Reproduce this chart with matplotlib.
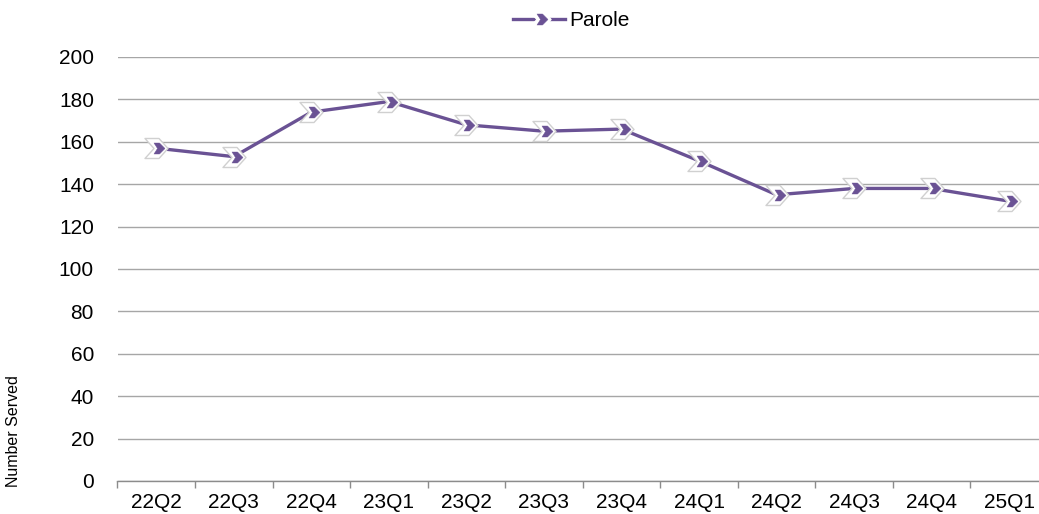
import numpy as np
import matplotlib.pyplot as plt
from matplotlib.path import Path
from matplotlib.lines import Line2D

# quarterly counts
quarters = ['22Q2', '22Q3', '22Q4', '23Q1', '23Q2', '23Q3',
            '23Q4', '24Q1', '24Q2', '24Q3', '24Q4', '25Q1']
parole = [157, 153, 174, 179, 168, 165, 166, 151, 135, 138, 138, 132]
yticks = [0, 20, 40, 60, 80, 100, 120, 140, 160, 180, 200]

purple = '#6a5294'
px = 72.0 / 100  # points per pixel

plt.rcParams['font.family'] = ['Liberation Sans', 'DejaVu Sans']

# chevron markers, drawn in pixel units around the point
outer = Path([(-11.5, 10), (2.5, 10), (11.5, 0), (2.5, -10),
              (-11.5, -10), (-2.5, 0), (-11.5, 10)],
             [Path.MOVETO] + [Path.LINETO] * 5 + [Path.CLOSEPOLY])
inner = Path([(-2.5, 5.5), (3.0, 5.5), (8.5, 0), (3.0, -5.5),
              (-2.5, -5.5), (1.0, 0), (-2.5, 5.5)],
             [Path.MOVETO] + [Path.LINETO] * 5 + [Path.CLOSEPOLY])
ms_out = 23 * px
ms_in = 17 * px

fig = plt.figure(figsize=(10.39, 5.14), dpi=100)
ax = fig.add_axes([117.5 / 1039, 1 - 481 / 514, (1048 - 117.5) / 1039, (481 - 57) / 514])

x = np.arange(len(quarters))
ax.plot(x, parole, color=purple, lw=2.4, zorder=3)
ax.plot(x, parole, ls='none', marker=outer, ms=ms_out, mfc='white',
        mec='#d0d0d0', mew=1.0, zorder=4)
ax.plot(x, parole, ls='none', marker=inner, ms=ms_in, mfc=purple,
        mec=purple, mew=0.3, zorder=5)

ax.set_xlim(-0.5, len(quarters) - 0.5)
ax.set_ylim(0, 200)
ax.set_yticks(yticks)
ax.set_xticks(x)
ax.set_xticklabels(quarters)
ax.set_xticks(np.arange(-0.5, len(quarters), 1.0), minor=True)
ax.tick_params(axis='x', which='major', length=0, labelsize=15, pad=9)
ax.tick_params(axis='x', which='minor', length=5, color='#8c8c8c', width=1)
ax.tick_params(axis='y', length=0, labelsize=15, pad=17)
ax.grid(axis='y', color='#a6a6a6', lw=1)
ax.set_axisbelow(True)
for s in ['top', 'right', 'left']:
    ax.spines[s].set_visible(False)
ax.spines['bottom'].set_color('#8c8c8c')
ax.spines['bottom'].set_linewidth(1)

fig.text(14 / 1039, 1 - 431.5 / 514, 'Number Served', rotation=90,
         fontsize=11.5, ha='center', va='center')

# legend
h = (Line2D([], [], color=purple, lw=2.4),
     Line2D([], [], ls='none', marker=outer, ms=ms_out, mfc='white', mec='white', mew=1.0),
     Line2D([], [], ls='none', marker=inner, ms=ms_in, mfc=purple, mec=purple, mew=0.3))
fig.legend([h], ['Parole'], loc='center', bbox_to_anchor=(571 / 1039, 1 - 21 / 514),
           frameon=False, fontsize=15, handlelength=2.5, handletextpad=0.2,
           borderpad=0, borderaxespad=0)

fig.savefig('out.png', dpi=100)
